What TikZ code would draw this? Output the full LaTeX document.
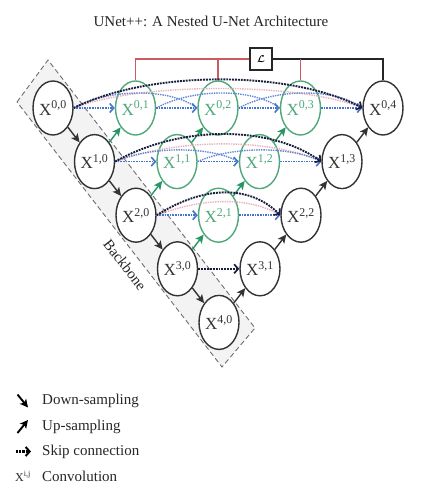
\documentclass[tikz,border=0pt]{standalone}
\usepackage{fontspec}
\setmainfont{Liberation Serif}
\usepackage{bm}
\usetikzlibrary{shapes.geometric,arrows.meta}
\definecolor{gnode}{RGB}{78,168,122}
\definecolor{garrow}{RGB}{40,150,100}
\definecolor{bskipc}{RGB}{70,115,205}
\definecolor{kskipc}{RGB}{25,30,60}
\definecolor{pskipc}{RGB}{235,175,188}
\definecolor{redl}{RGB}{205,90,95}
\definecolor{bbfill}{RGB}{243,243,243}
\definecolor{bbline}{RGB}{110,110,110}
\newcommand\xlab[2]{X\textsuperscript{#1,#2}}
\begin{document}
\begin{tikzpicture}[x=1pt,y=-1pt,
  bnode/.style={ellipse,draw=black!80,line width=1.4pt,fill=white,minimum width=40pt,minimum height=54pt,inner sep=0pt,text=black!80,font=\fontsize{17}{17}\selectfont},
  gnodes/.style={bnode,draw=gnode,text=gnode},
  downarr/.style={-{Stealth[length=8.5pt,width=8pt,inset=2pt]},line width=1.4pt,draw=black!80},
  uparr/.style={downarr,draw=garrow},
  bskip/.style={densely dotted,line width=1.6pt,draw=bskipc,-{Straight Barb[length=4pt,width=9pt,line width=1.6pt]}},
  bskipn/.style={densely dotted,line width=1.4pt,draw=bskipc!85},
  kskip/.style={densely dotted,line width=1.9pt,draw=kskipc,-{Straight Barb[length=4pt,width=9pt,line width=1.7pt]}},
  pskip/.style={densely dotted,line width=1.4pt,draw=pskipc},
  txt/.style={font=\fontsize{15}{18}\selectfont,text=black!85},
]
\useasboundingbox (0,0) rectangle (421,500);
% title
\node[txt] (title) at (211,21) {UNet++: A Nested U-Net Architecture};
% backbone
\fill[bbfill] (17,102) -- (48,60) -- (255,328) -- (222,367) -- cycle;
\draw[bbline,line width=0.9pt,dash pattern=on 5pt off 3pt] (17,102) -- (48,60) -- (255,328) -- (222,367) -- cycle;
\node[txt,rotate=-52.3,inner sep=0pt] (bb) at (125,265) {Backbone};
% nodes
\node[bnode]  (X00) at (53,108) {\xlab{0}{0}};
\node[gnodes] (X01) at (135.5,108) {\xlab{0}{1}};
\node[gnodes] (X02) at (218,108) {\xlab{0}{2}};
\node[gnodes] (X03) at (300.5,108) {\xlab{0}{3}};
\node[bnode]  (X04) at (383,108) {\xlab{0}{4}};
\node[bnode]  (X10) at (94.5,161.6) {\xlab{1}{0}};
\node[gnodes] (X11) at (177,161.6) {\xlab{1}{1}};
\node[gnodes] (X12) at (259.5,161.6) {\xlab{1}{2}};
\node[bnode]  (X13) at (342,161.6) {\xlab{1}{3}};
\node[bnode]  (X20) at (136,215.2) {\xlab{2}{0}};
\node[gnodes] (X21) at (218.5,215.2) {\xlab{2}{1}};
\node[bnode]  (X22) at (301,215.2) {\xlab{2}{2}};
\node[bnode]  (X30) at (177.5,268.8) {\xlab{3}{0}};
\node[bnode]  (X31) at (260,268.8) {\xlab{3}{1}};
\node[bnode]  (X40) at (219,322.4) {\xlab{4}{0}};
% loss
\node[draw=black!85,line width=1.4pt,minimum width=22pt,minimum height=22pt,inner sep=0pt,fill=white] (L) at (261,59) {$\bm{\mathcal{L}}$};
\draw[redl,line width=1.3pt] (L.west) -| (X01.north);
\draw[redl,line width=1.3pt] (L.west -| X02.north) -- (X02.north);
\draw[black!85,line width=1.3pt] (L.east) -| (X04.north);
\draw[redl,line width=1.3pt] (L.east -| X03.north) -- (X03.north);
% down-sampling
\draw[downarr] (X00) -- (X10);
\draw[downarr] (X10) -- (X20);
\draw[downarr] (X20) -- (X30);
\draw[downarr] (X30) -- (X40);
% up-sampling
\draw[uparr] (X10) -- (X01);
\draw[uparr] (X11) -- (X02);
\draw[uparr] (X12) -- (X03);
\draw[uparr] (X20) -- (X11);
\draw[uparr] (X21) -- (X12);
\draw[uparr] (X30) -- (X21);
\draw[downarr] (X40) -- (X31);
\draw[downarr] (X31) -- (X22);
\draw[downarr] (X22) -- (X13);
\draw[downarr] (X13) -- (X04);
% skip connections row 0
\draw[pskip] (X00.east) .. controls (140,82) and (300,82) .. (X04.west);
\draw[bskipn] (X00.east) .. controls (110,88) and (170,88) .. (X02.west);
\draw[bskipn] (X01.east) .. controls (193,88) and (253,88) .. (X03.west);
\draw[bskipn] (X02.east) .. controls (276,88) and (336,88) .. (X04.west);
\draw[bskip] (X00.east) -- (X01.west);
\draw[bskip] (X01.east) -- (X02.west);
\draw[bskip] (X02.east) -- (X03.west);
\draw[bskip] (X03.east) -- (X04.west);
\draw[kskip] (X00.east) .. controls (150,70) and (290,70) .. (X04.west);
% row 1
\draw[pskip] (X10.east) .. controls (180,138) and (270,138) .. (X13.west);
\draw[bskipn] (X10.east) .. controls (150,146) and (210,146) .. (X12.west);
\draw[bskipn] (X11.east) .. controls (232,146) and (292,146) .. (X13.west);
\draw[bskip] (X10.east) -- (X11.west);
\draw[bskip] (X11.east) -- (X12.west);
\draw[bskip] (X12.east) -- (X13.west);
\draw[kskip] (X10.east) .. controls (180,125) and (270,125) .. (X13.west);
% row 2
\draw[pskip] (X20.east) .. controls (205,197) and (250,197) .. (X22.west);
\draw[bskip] (X20.east) -- (X21.west);
\draw[bskip] (X21.east) -- (X22.west);
\draw[kskip] (X20.east) .. controls (205,185) and (250,185) .. (X22.west);
% row 3
\draw[kskip] (X30.east) -- (X31.west);
% legend
\coordinate (d1) at (17.5,394.5); \coordinate (d2) at (28,407.5);
\coordinate (u1) at (17.5,433); \coordinate (u2) at (28,420);
\coordinate (s1) at (16,451.5); \coordinate (s2) at (31,451.5);
\draw[-{Stealth[length=8pt,width=8pt,inset=2pt]},black,line width=1.9pt] (d1) -- (d2);
\draw[-{Stealth[length=8pt,width=8pt,inset=2pt]},black,line width=1.9pt] (u1) -- (u2);
\draw[densely dotted,line width=2.2pt,black,-{Straight Barb[length=4pt,width=9pt,line width=2pt]}] (s1) -- (s2);
\node[anchor=base west,inner sep=0pt,font=\fontsize{12}{12}\selectfont,text=black!85] (lx) at (15,481) {\xlab{i}{j}};
\node[txt,anchor=base west,inner sep=0pt] (l1) at (42,404.5) {Down-sampling};
\node[txt,anchor=base west,inner sep=0pt] (l2) at (42,430) {Up-sampling};
\node[txt,anchor=base west,inner sep=0pt] (l3) at (42,455.5) {Skip connection};
\node[txt,anchor=base west,inner sep=0pt] (l4) at (42,481) {Convolution};
\end{tikzpicture}
\end{document}
